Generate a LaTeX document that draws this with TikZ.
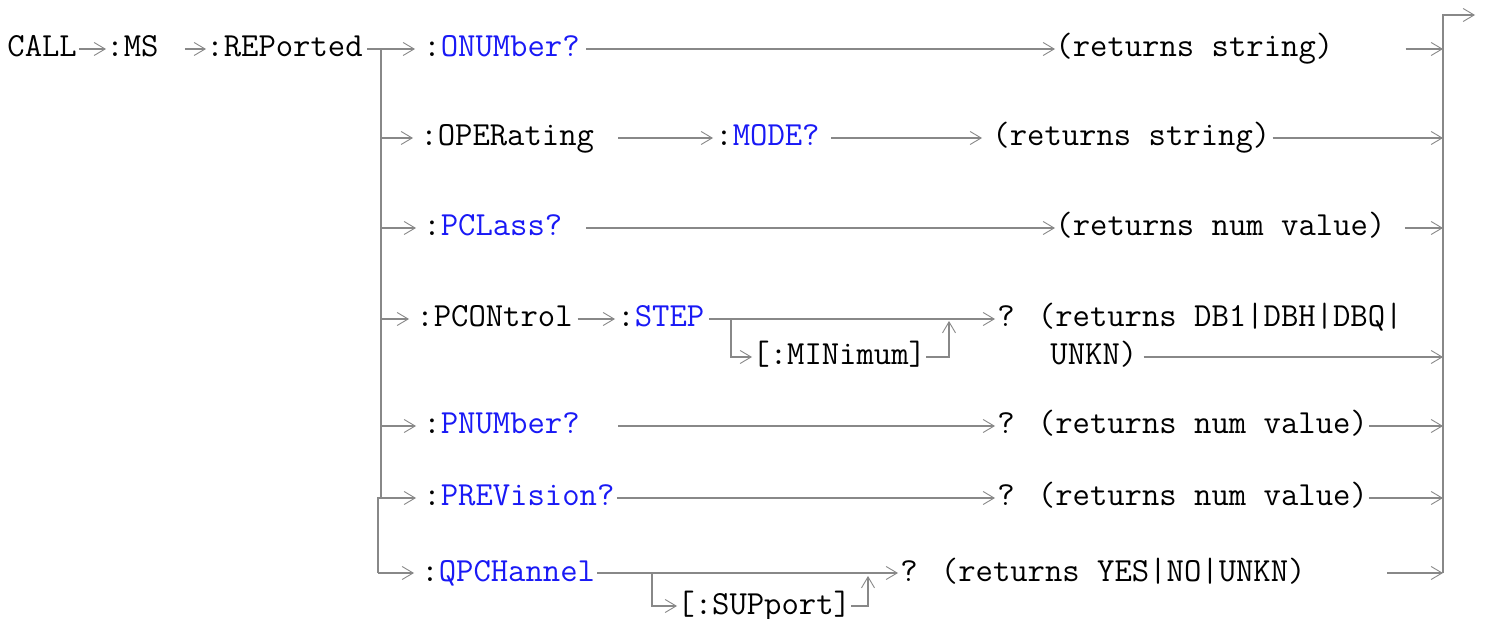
\documentclass[tikz,border=0pt]{standalone}
\usepackage{tikz}
\usetikzlibrary{arrows.meta}
\definecolor{railgray}{RGB}{136,136,136}
\definecolor{kwblue}{RGB}{25,25,245}
\newcommand{\kw}[1]{\textcolor{kwblue}{#1}}

\begin{document}
\begin{tikzpicture}[
    x=0.5pt, y=-0.5pt,
    every node/.style={font=\ttfamily\fontsize{16.86}{20}\selectfont, inner sep=0pt, anchor=west, text height=12pt, text depth=4pt},
    rail/.style={draw=railgray, line width=0.65pt},
    arr/.style={rail, -{Straight Barb[length=5.5pt, width=6.5pt, line width=0.45pt]}},
    branch/.style={arr, shorten >=3.5pt},
]
\useasboundingbox (0,0) rectangle (1487,619);

\node (call) at (7,49) {CALL};
\node (ms) at (106,49) {:MS};
\node (rep) at (206,49) {:REPorted};

\node (onum) at (423,49) {:\kw{ONUMber?}};
\node (ret1) at (1055,49) {(returns string)};
\node (oper) at (420,138) {:OPERating};
\node (mode) at (715,138) {:\kw{MODE?}};
\node (ret2) at (992,138) {(returns string)};
\node (pcl) at (423,228) {:\kw{PCLass?}};
\node (ret3) at (1055,228) {(returns num value)};
\node (pcon) at (416,319) {:PCONtrol};
\node (step) at (617,319) {:\kw{STEP}};
\node (minm) at (752,357) {[:MINimum]};
\node (ret4) at (997,319) {? (returns DB1|DBH|DBQ|};
\node (unkn) at (1050,357) {UNKN)};
\node (pnum) at (423,426) {:\kw{PNUMber?}};
\node (ret5) at (997,426) {? (returns num value)};
\node (prev) at (423,498) {:\kw{PREVision?}};
\node (ret6) at (997,498) {? (returns num value)};
\node (qpch) at (421,573) {:\kw{QPCHannel}};
\node (supp) at (677,606) {[:SUPport]};
\node (ret7) at (900,573) {? (returns YES|NO|UNKN)};

\coordinate (j1) at (381,49);
\coordinate (j2) at (381,138);
\coordinate (j3) at (381,228);
\coordinate (j4) at (381,319);
\coordinate (j5) at (381,426);
\coordinate (j6) at (381,498);
\coordinate (k6) at (378,498);
\coordinate (j7) at (378,573);

\coordinate (btop) at (1443,15);
\coordinate (bout) at (1475,15);
\coordinate (b1) at (1443,49);
\coordinate (b2) at (1443,138);
\coordinate (b3) at (1443,228);
\coordinate (b4) at (1443,357);
\coordinate (b5) at (1443,426);
\coordinate (b6) at (1443,498);
\coordinate (b7) at (1443,573);

\coordinate (s1) at (731,319);
\coordinate (s3) at (949,321);
\coordinate (q1) at (652,573);
\coordinate (q2) at (868,576);

\draw[arr, shorten <=1pt] (call) -- (ms);
\draw[arr, shorten <=13pt] (ms) -- (rep);
\draw[arr, shorten <=2pt, shorten >=4pt] (rep) -- (onum);
\draw[rail] (j1) -- (j6) -- (k6) -- (j7);

\draw[branch] (j2) -- (oper);
\draw[branch] (j3) -- (pcl);
\draw[branch] (j4) -- (pcon);
\draw[branch] (j5) -- (pnum);
\draw[branch] (k6) -- (prev);
\draw[branch] (j7) -- (qpch);

\draw[arr, shorten <=3pt] (onum) -- (ret1);
\draw[arr, shorten <=36pt] (ret1) -- (b1);

\draw[arr, shorten <=12pt, shorten >=1pt] (oper) -- (mode);
\draw[arr, shorten <=5.5pt, shorten >=5pt] (mode) -- (ret2);
\draw[arr, shorten <=1pt] (ret2) -- (b2);

\draw[arr, shorten <=11.7pt] (pcl) -- (ret3);
\draw[arr, shorten <=9.5pt] (ret3) -- (b3);

\draw[arr, shorten <=2.3pt, shorten >=1pt] (pcon) -- (step);
\draw[arr, shorten <=2.2pt, shorten >=1pt] (step) -- (ret4);
\draw[arr] (s1) |- (minm);
\draw[arr] (minm) -| (s3);
\draw[arr, shorten <=3pt] (unkn) -- (b4);

\draw[arr, shorten <=19pt, shorten >=1pt] (pnum) -- (ret5);
\draw[arr, shorten <=0.5pt] (ret5) -- (b5);

\draw[arr, shorten <=1pt, shorten >=1pt] (prev) -- (ret6);
\draw[arr, shorten <=0.5pt] (ret6) -- (b6);

\draw[arr, shorten <=1pt, shorten >=1pt] (qpch) -- (ret7);
\draw[arr] (q1) |- (supp);
\draw[arr] (supp) -| (q2);
\draw[arr, shorten <=40.5pt] (ret7) -- (b7);

\draw[arr] (b7) -- (btop) -- (bout);

\end{tikzpicture}
\end{document}
